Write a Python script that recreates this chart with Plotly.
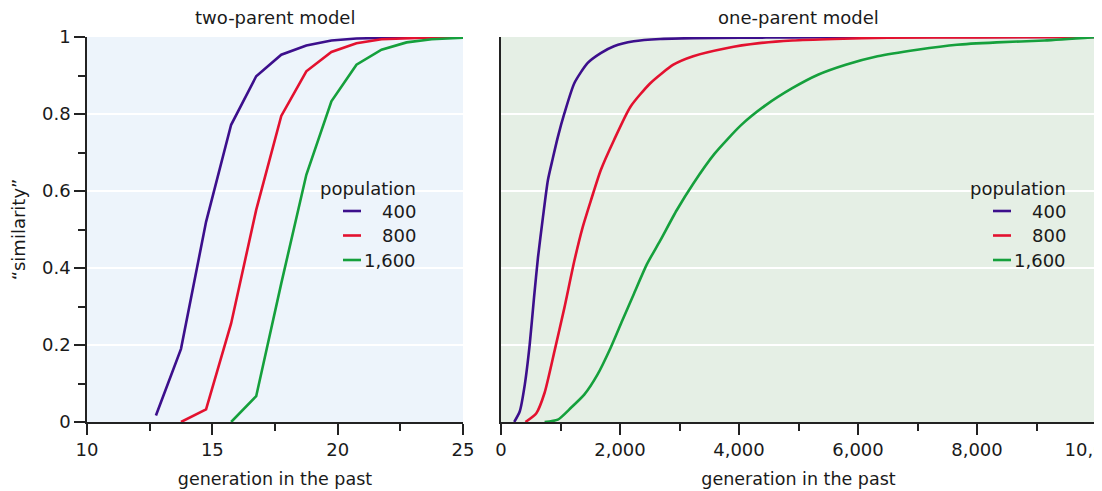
import plotly.graph_objects as go

# The page body adds an 8px margin, so the figure is sized to the visible area
OFF = 8
W, H = 1102 - OFF, 491 - OFF

# ---------------- data ----------------
series_names = ["400", "800", "1,600"]
series_colors = ["#3c0f8c", "#e3112f", "#15a03c"]

# two-parent model
tp_gen_400 = [12.75, 13.75, 14.75, 15.75, 16.75, 17.75, 18.75, 19.75, 20.75, 21.75, 22.75, 23.75, 25.0]
tp_sim_400 = [0.017, 0.19, 0.52, 0.772, 0.898, 0.954, 0.978, 0.991, 0.996, 0.998, 0.999, 1.0, 1.0]
tp_gen_800 = [13.75, 14.75, 15.75, 16.75, 17.75, 18.75, 19.75, 20.75, 21.75, 22.75, 23.75, 25.0]
tp_sim_800 = [0.0, 0.033, 0.256, 0.551, 0.795, 0.911, 0.961, 0.984, 0.994, 0.997, 0.999, 1.0]
tp_gen_1600 = [15.75, 16.75, 17.75, 18.75, 19.75, 20.75, 21.75, 22.75, 23.75, 25.0]
tp_sim_1600 = [0.0, 0.067, 0.36, 0.642, 0.833, 0.928, 0.967, 0.986, 0.994, 0.998]

# one-parent model
op_gen_400 = [222, 316, 400, 483, 555, 622, 705, 788, 871, 955, 1066, 1232, 1454, 1676, 1898,
              2231, 2675, 3230, 4000, 4895, 6000, 8000, 10000]
op_sim_400 = [0.0, 0.028, 0.097, 0.202, 0.323, 0.428, 0.532, 0.628, 0.685, 0.74, 0.802, 0.88, 0.932,
              0.958, 0.976, 0.989, 0.995, 0.997, 0.998, 0.999, 1.0, 1.0, 1.0]
op_gen_800 = [411, 594, 733, 899, 1066, 1232, 1371, 1510, 1676, 1898, 2176, 2509, 2897, 3230, 3785,
              4340, 4895, 5600, 6500, 8000, 10000]
op_sim_800 = [0.0, 0.023, 0.076, 0.184, 0.297, 0.418, 0.505, 0.575, 0.654, 0.732, 0.819, 0.88, 0.928,
              0.95, 0.971, 0.984, 0.991, 0.995, 0.998, 0.999, 1.0]
op_gen_1600 = [733, 955, 1177, 1399, 1621, 1843, 2037, 2231, 2453, 2675, 2953, 3230, 3590, 4035, 4451,
               4895, 5327, 5794, 6328, 6996, 7663, 8331, 9132, 10000]
op_sim_1600 = [0.0, 0.006, 0.037, 0.071, 0.123, 0.193, 0.263, 0.332, 0.41, 0.471, 0.55, 0.619, 0.697,
               0.771, 0.823, 0.867, 0.902, 0.928, 0.95, 0.967, 0.98, 0.986, 0.991, 1.0]

tp_xticks = [10, 15, 20, 25]
tp_xminor = [12.5, 17.5, 22.5]
op_xticks = [0, 2000, 4000, 6000, 8000, 10000]
op_xticktext = ["0", "2,000", "4,000", "6,000", "8,000", "10,000"]
op_xminor = [1000, 3000, 5000, 7000, 9000]
yticks = [0, 0.2, 0.4, 0.6, 0.8, 1]
yticktext = ["0", "0.2", "0.4", "0.6", "0.8", "1"]
yminor = [0.1, 0.3, 0.5, 0.7, 0.9]

panel_titles = ["two-parent model", "one-parent model"]
x_title = "generation in the past"
y_title = "\u201csimilarity\u201d"
legend_title = "population"

# ---------------- styling ----------------
FONT = "DejaVu Sans"
FS = 18
TXT = "#1a1a1a"
AX = "#222222"
BG_LEFT = "#edf4fb"
BG_RIGHT = "#e5efe5"


def px_x(p):
    return (p - OFF) / W


def px_y(p):
    return 1 - (p - OFF) / H


dom_x1 = [px_x(87), px_x(463)]
dom_x2 = [px_x(501), px_x(1096)]
dom_y = [px_y(422), px_y(37)]

fig = go.Figure()

tp_sets = [(tp_gen_400, tp_sim_400), (tp_gen_800, tp_sim_800), (tp_gen_1600, tp_sim_1600)]
op_sets = [(op_gen_400, op_sim_400), (op_gen_800, op_sim_800), (op_gen_1600, op_sim_1600)]

for (gx, gy), name, col in zip(tp_sets, series_names, series_colors):
    fig.add_trace(go.Scatter(x=gx, y=gy, mode="lines", name=name, showlegend=False,
                             line=dict(color=col, width=2.6), xaxis="x", yaxis="y"))
for (gx, gy), name, col in zip(op_sets, series_names, series_colors):
    fig.add_trace(go.Scatter(x=gx, y=gy, mode="lines", name=name, showlegend=False,
                             line=dict(color=col, width=2.6, shape="spline", smoothing=0.6),
                             xaxis="x2", yaxis="y2"))

tickfont = dict(family=FONT, size=FS, color=TXT)
titlefont = dict(family=FONT, size=17.5, color=TXT)
common_axis = dict(showline=True, linecolor=AX, linewidth=1.5, zeroline=False,
                   ticks="outside", ticklen=11, tickwidth=1.5, tickcolor=AX,
                   tickfont=tickfont, automargin=False, ticklabeloverflow="allow")
minor_style = dict(ticks="outside", ticklen=7, tickwidth=1.5, tickcolor=AX, showgrid=False)

fig.update_layout(
    width=W, height=H, template="none",
    margin=dict(l=0, r=0, t=0, b=0),
    paper_bgcolor="white", plot_bgcolor="rgba(0,0,0,0)",
    font=dict(family=FONT, size=FS, color=TXT),
    showlegend=False,
    xaxis=dict(domain=dom_x1, range=[10, 25], anchor="y", tickvals=tp_xticks,
               minor=dict(tickvals=tp_xminor, **minor_style), showgrid=False,
               title=dict(text=x_title, font=titlefont, standoff=13),
               **common_axis),
    yaxis=dict(domain=dom_y, range=[0, 1], anchor="x", tickvals=yticks, ticktext=yticktext,
               minor=dict(tickvals=yminor, **minor_style),
               showgrid=True, gridcolor="white", gridwidth=1.5,
               title=dict(text=y_title, font=dict(family=FONT, size=FS, color=TXT), standoff=16),
               **common_axis),
    xaxis2=dict(domain=dom_x2, range=[0, 10000], anchor="y2", tickvals=op_xticks,
                ticktext=op_xticktext, minor=dict(tickvals=op_xminor, **minor_style),
                showgrid=False,
                title=dict(text=x_title, font=titlefont, standoff=13),
                **common_axis),
    yaxis2=dict(domain=dom_y, range=[0, 1], anchor="x2", tickvals=yticks,
                showticklabels=False, showgrid=True, gridcolor="white", gridwidth=1.5,
                showline=True, linecolor=AX, linewidth=1.5, zeroline=False, ticks="",
                automargin=False),
)

# panel backgrounds
for xr, yr, bg in [("x domain", "y domain", BG_LEFT), ("x2 domain", "y2 domain", BG_RIGHT)]:
    fig.add_shape(type="rect", xref=xr, yref=yr, x0=0, x1=1, y0=0, y1=1,
                  fillcolor=bg, line=dict(width=0), layer="below")

# panel titles
for dom, txt in zip([dom_x1, dom_x2], panel_titles):
    fig.add_annotation(text=txt, x=(dom[0] + dom[1]) / 2, y=px_y(18), xref="paper", yref="paper",
                       showarrow=False, xanchor="center", yanchor="middle",
                       font=dict(family=FONT, size=FS, color=TXT))

# manual legends (right-aligned labels like the reference)
for right_px in [418, 1068]:
    fig.add_annotation(text=legend_title, x=px_x(right_px), y=px_y(188), xref="paper",
                       yref="paper", showarrow=False, xanchor="right", yanchor="middle",
                       font=dict(family=FONT, size=FS, color=TXT))
    for i, (name, col) in enumerate(zip(series_names, series_colors)):
        ry = 211 + 24.5 * i
        fig.add_annotation(text=name, x=px_x(right_px), y=px_y(ry), xref="paper", yref="paper",
                           showarrow=False, xanchor="right", yanchor="middle",
                           font=dict(family=FONT, size=FS, color=TXT))
        fig.add_shape(type="line", xref="paper", yref="paper",
                      x0=px_x(right_px - 75), x1=px_x(right_px - 57), y0=px_y(ry), y1=px_y(ry),
                      line=dict(color=col, width=2.6))

fig.write_html("out.html")
